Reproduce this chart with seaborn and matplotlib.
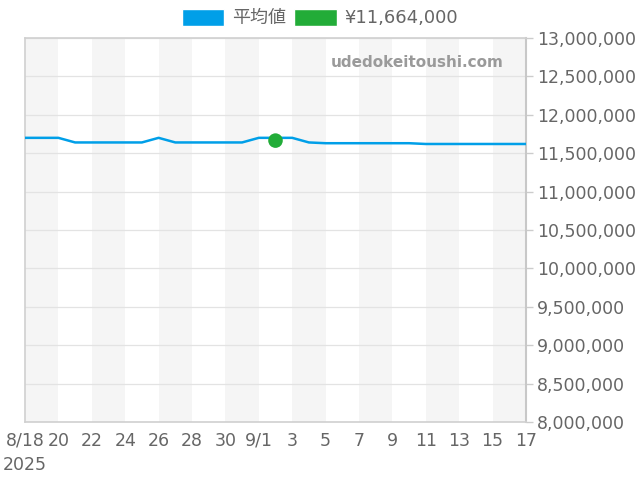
import numpy as np
import pandas as pd
import seaborn as sns
import matplotlib.pyplot as plt
from matplotlib.patches import Patch

# daily average price 8/18 - 9/17 2025
dates = pd.date_range("2025-08-18", "2025-09-17", freq="D")
avg_price = [11700000, 11700000, 11700000, 11640000, 11640000, 11640000, 11640000,
             11640000, 11700000, 11640000, 11640000, 11640000, 11640000, 11640000,
             11700000, 11700000, 11700000, 11640000, 11630000, 11630000, 11630000,
             11630000, 11630000, 11630000, 11620000, 11620000, 11620000, 11620000,
             11620000, 11620000, 11620000]
point_date = pd.Timestamp("2025-09-02")
point_price = 11664000
point_label = "¥11,664,000"
avg_label = "平均値"

df = pd.DataFrame({"date": dates, "price": avg_price})

sns.set_style("white")
plt.rcParams["font.family"] = ["DejaVu Sans", "Noto Sans CJK JP"]

text_col = "#666666"
line_col = "#009FE8"
dot_col = "#22AC38"

fig = plt.figure(figsize=(6.4, 4.8), dpi=100)
ax = fig.add_axes([25 / 640, 1 - 422 / 480, 501 / 640, 384 / 480])

# alternating background bands every 2 days
for i in range(0, len(dates) - 1, 4):
    ax.axvspan(dates[i], dates[i + 2], color="#F5F5F5", zorder=0, lw=0)

sns.lineplot(data=df, x="date", y="price", color=line_col, lw=1.8, ax=ax, zorder=3)
sns.scatterplot(x=[point_date], y=[point_price], color=dot_col, s=110, ax=ax,
                zorder=4, edgecolor="none")

ax.set_xlim(dates[0], dates[-1])
ax.set_ylim(8000000, 13000000)
ax.set_xlabel("")
ax.set_ylabel("")

yt = np.arange(8000000, 13000001, 500000)
ax.set_yticks(yt)
ax.set_yticklabels([f"{v:,}" for v in yt])
ax.yaxis.tick_right()
ax.grid(axis="y", color="#E3E3E3", lw=0.9)
ax.set_axisbelow(True)

xt = dates[::2]
labels = []
for d in xt:
    if d == dates[0]:
        labels.append("8/18\n2025")
    elif d.day == 1:
        labels.append(f"{d.month}/{d.day}")
    else:
        labels.append(str(d.day))
ax.set_xticks(xt)
ax.set_xticklabels(labels, linespacing=1.45)
for t in ax.get_xticklabels():
    t.set_verticalalignment("top")

ax.tick_params(axis="both", colors="#CCCCCC", labelcolor=text_col, labelsize=12.5,
               length=5, width=1)
ax.tick_params(axis="x", pad=2)
ax.tick_params(axis="y", pad=3)

for side in ["left", "top", "bottom"]:
    ax.spines[side].set_color("#D0D0D0")
    ax.spines[side].set_linewidth(1.2)
ax.spines["right"].set_color("#C8C8C8")
ax.spines["right"].set_linewidth(1.5)

ax.text(0.955, 0.935, "udedokeitoushi.com", transform=ax.transAxes, ha="right",
        va="center", fontsize=11, fontweight="bold", color="#9A9A9A")

handles = [Patch(facecolor=line_col, label=avg_label),
           Patch(facecolor=dot_col, label=point_label)]
fig.legend(handles=handles, loc="center", bbox_to_anchor=(0.5, 1 - 18 / 480), ncol=2,
           frameon=False, fontsize=13, labelcolor=text_col, handlelength=2.35,
           handleheight=1.1, handletextpad=0.45, columnspacing=0.45)

fig.savefig("out.png", dpi=100)
